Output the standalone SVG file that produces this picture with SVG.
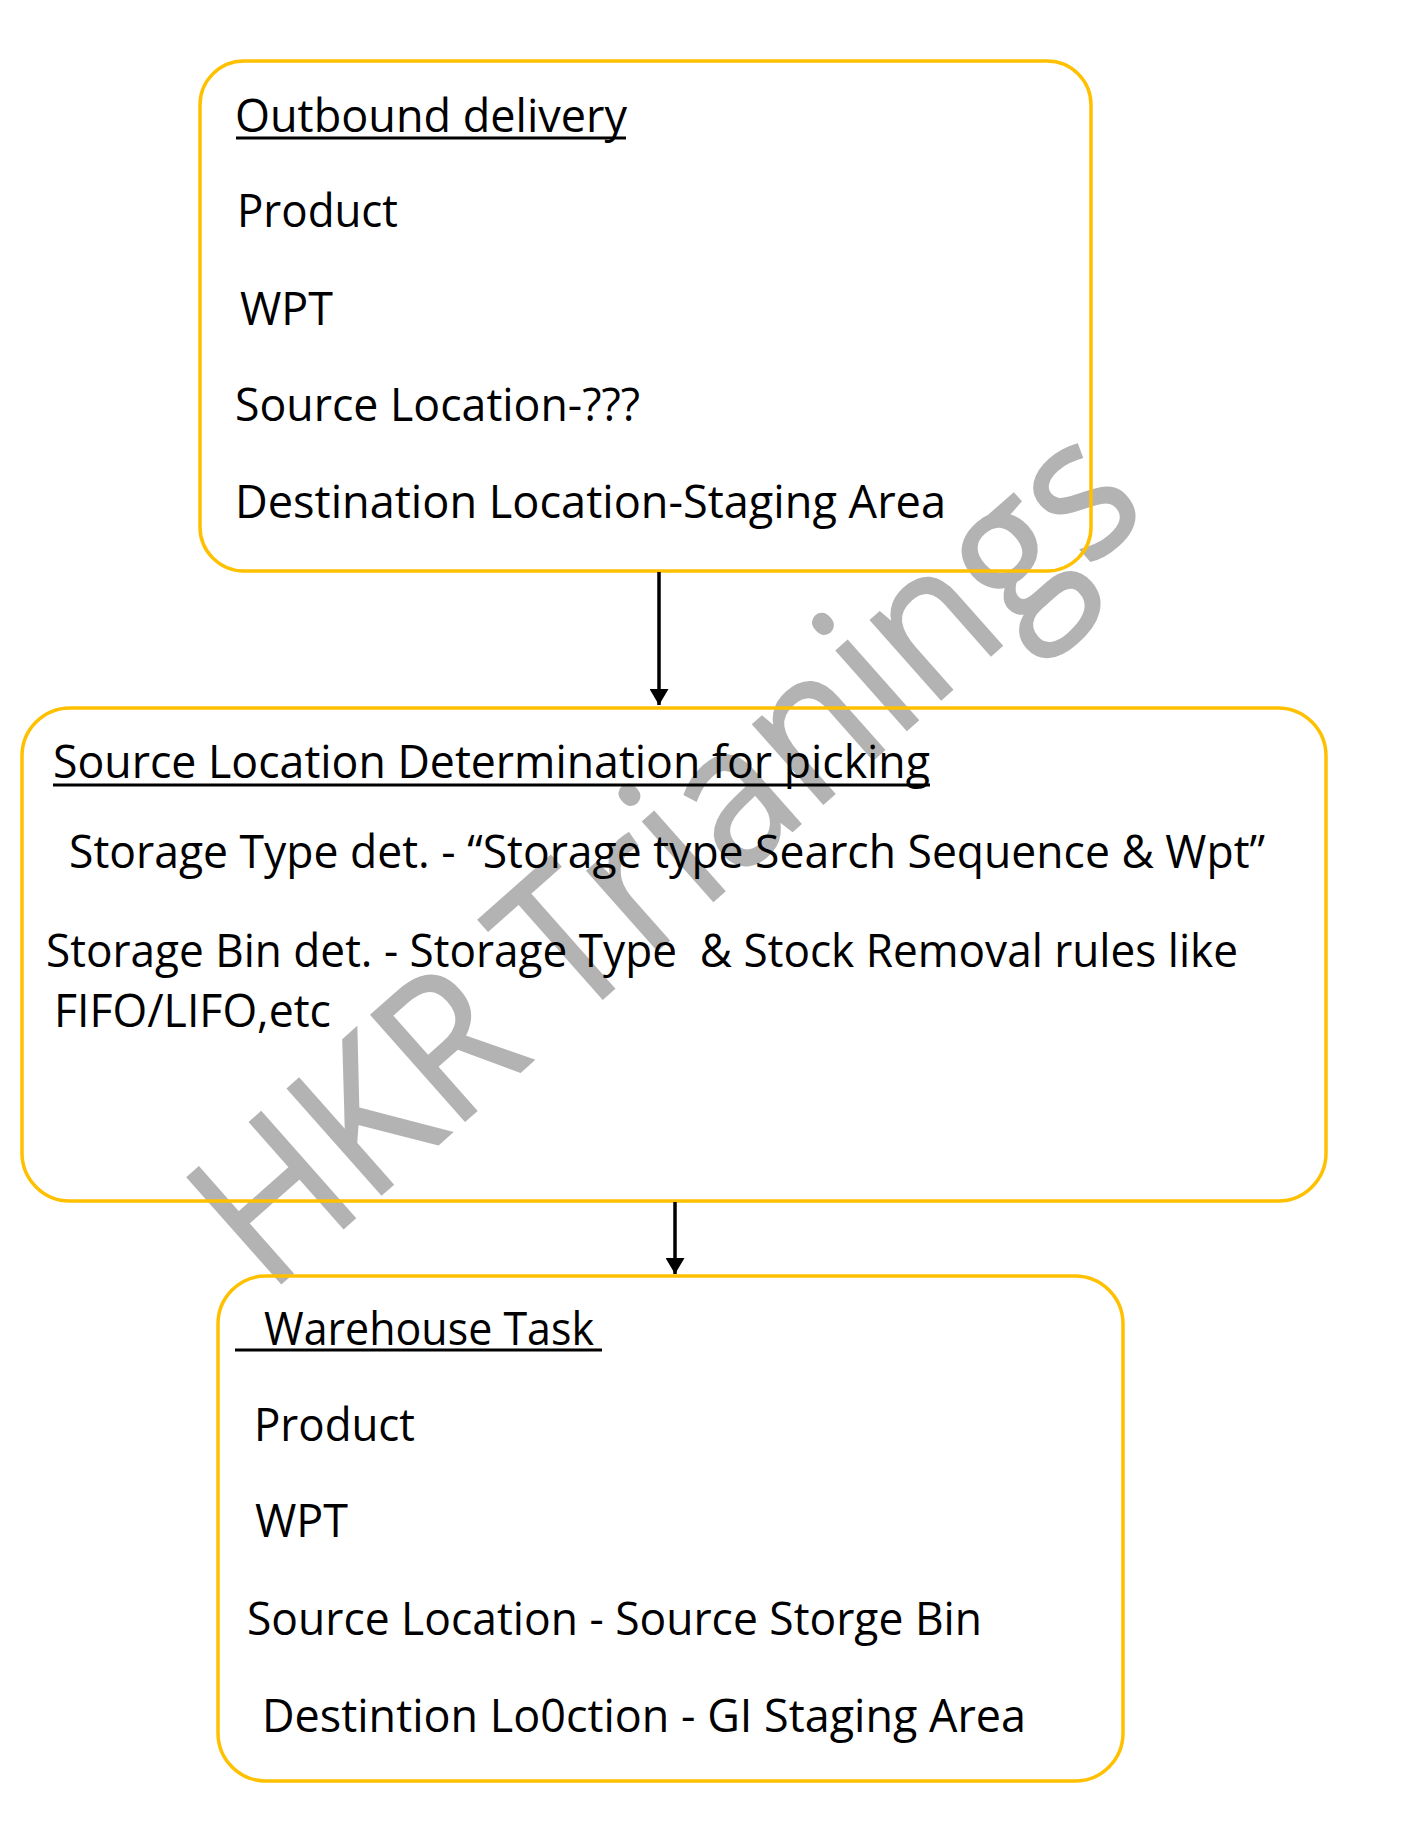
<svg xmlns="http://www.w3.org/2000/svg" width="1414" height="1826" viewBox="0 0 1414 1826">
<style>
.box{fill:none;stroke:#FFC000;stroke-width:3.5}
.t{font-family:"Open Sans","Noto Sans","DejaVu Sans",sans-serif;font-size:45px;fill:#000}
.ul{stroke:#000;stroke-width:3}
.wm{font-family:"Open Sans","Noto Sans","DejaVu Sans",sans-serif;font-size:198px;fill:#b3b3b3;stroke:#b3b3b3;stroke-width:2}
.conn{stroke:#000;stroke-width:3.5;fill:none}
</style>
<defs>
<marker id="arr" viewBox="0 0 16 19" refX="16" refY="9.5" markerWidth="16" markerHeight="19" markerUnits="userSpaceOnUse" orient="auto">
<path d="M0,0 L16,9.5 L0,19 Z" fill="#000"/>
</marker>
</defs>
<rect width="1414" height="1826" fill="#fff"/>
<g id="watermark">
<text class="wm" x="268" y="1295" textLength="1180" lengthAdjust="spacingAndGlyphs" transform="rotate(-41.5 268 1295)">HKR Trianings</text>
</g>
<g id="outbound-delivery">
<rect class="box" x="200" y="61" width="891" height="510" rx="44" ry="44"/>
<text class="t" x="235" y="132" textLength="392" lengthAdjust="spacingAndGlyphs">Outbound delivery</text>
<line class="ul" x1="236" y1="138" x2="626" y2="138"/>
<text class="t" x="237" y="227" textLength="161" lengthAdjust="spacingAndGlyphs">Product</text>
<text class="t" x="240" y="325" textLength="93" lengthAdjust="spacingAndGlyphs">WPT</text>
<text class="t" x="235" y="421" textLength="405" lengthAdjust="spacingAndGlyphs">Source Location-???</text>
<text class="t" x="235" y="518" textLength="711" lengthAdjust="spacingAndGlyphs">Destination Location-Staging Area</text>
</g>
<g id="source-location-determination">
<rect class="box" x="22" y="708" width="1304" height="493" rx="48" ry="48"/>
<text class="t" x="53" y="778" textLength="877" lengthAdjust="spacingAndGlyphs">Source Location Determination for picking</text>
<line class="ul" x1="53" y1="785" x2="930" y2="785"/>
<text class="t" x="69" y="868" textLength="1196" lengthAdjust="spacingAndGlyphs">Storage Type det. - “Storage type Search Sequence &amp; Wpt”</text>
<text class="t" x="46" y="967" textLength="1192" lengthAdjust="spacingAndGlyphs" style="white-space:pre">Storage Bin det. - Storage Type  &amp; Stock Removal rules like</text>
<text class="t" x="54" y="1027" textLength="277" lengthAdjust="spacingAndGlyphs">FIFO/LIFO,etc</text>
</g>
<g id="warehouse-task">
<rect class="box" x="218" y="1276" width="905" height="505" rx="48" ry="48"/>
<text class="t" x="264" y="1345" textLength="330" lengthAdjust="spacingAndGlyphs">Warehouse Task</text>
<line class="ul" x1="235" y1="1350" x2="602" y2="1350"/>
<text class="t" x="254" y="1441" textLength="161" lengthAdjust="spacingAndGlyphs">Product</text>
<text class="t" x="255" y="1537" textLength="93" lengthAdjust="spacingAndGlyphs">WPT</text>
<text class="t" x="247" y="1635" textLength="735" lengthAdjust="spacingAndGlyphs">Source Location - Source Storge Bin</text>
<text class="t" x="262" y="1732" textLength="764" lengthAdjust="spacingAndGlyphs">Destintion Lo0ction - GI Staging Area</text>
</g>
<g id="connectors">
<line class="conn" x1="659" y1="572" x2="659" y2="705" marker-end="url(#arr)"/>
<line class="conn" x1="675" y1="1202" x2="675" y2="1274" marker-end="url(#arr)"/>
</g>
</svg>
